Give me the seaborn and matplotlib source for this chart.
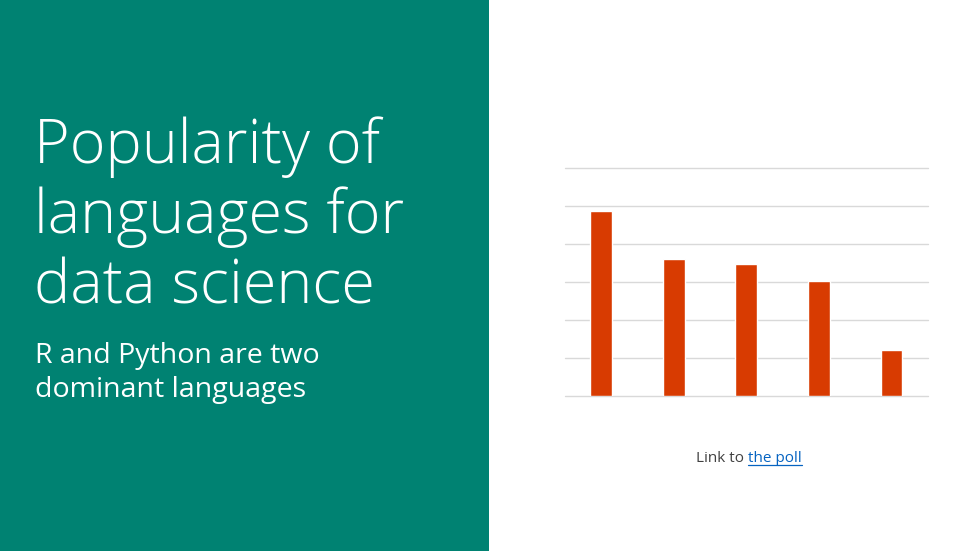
import matplotlib
matplotlib.use("Agg")
import matplotlib.pyplot as plt
from matplotlib.patches import Rectangle
from matplotlib import font_manager
import seaborn as sns
import pandas as pd

languages = ["R", "Python", "SQL", "SAS", "Other"]
share = [48.8, 36.1, 34.9, 30.3, 12.3]
grid_ticks = [0, 10, 20, 30, 40, 50, 60]

TEAL = "#008272"
ORANGE = "#D83B01"

sns.set_theme(style="white")
plt.rcParams["font.family"] = ["Open Sans", "DejaVu Sans"]

# find a light face if present
light_file = None
all_fonts = font_manager.findSystemFonts()
for key in ["opensans", "notosans", "lato", "roboto", "inter"]:
    for f in all_fonts:
        low = f.lower().replace("-", "").replace("_", "").replace(" ", "")
        name = low.rsplit("/", 1)[-1]
        if name.startswith(key) and "light" in name and "italic" not in name \
                and "extralight" not in name and "condensed" not in name \
                and "mono" not in name and "cjk" not in name:
            light_file = f
            break
    if light_file:
        break

fig = plt.figure(figsize=(9.79, 5.51), dpi=100)
fig.patch.set_facecolor("white")
fig.patches.append(Rectangle((0, 0), 489 / 979, 1, transform=fig.transFigure,
                             facecolor=TEAL, edgecolor="none", zorder=0))

ax = fig.add_axes([565 / 979, 1 - 396.3 / 551, (927.7 - 565) / 979, (396.3 - 168.3) / 551])
df = pd.DataFrame({"lang": languages, "share": share})
sns.barplot(data=df, x="lang", y="share", color=ORANGE, width=0.3,
            saturation=1, ax=ax, zorder=3)
ax.set_ylim(0, 60)
ax.set_xlim(-0.5, 4.5)
ax.set_yticks(grid_ticks)
ax.yaxis.grid(True, color="#d9d9d9", linewidth=1, zorder=0)
for gl in ax.get_ygridlines():
    gl.set_clip_on(False)
ax.set_axisbelow(True)
ax.set_xticks([])
ax.set_yticklabels([])
ax.tick_params(left=False, bottom=False)
ax.set_xlabel("")
ax.set_ylabel("")
for s in ax.spines.values():
    s.set_visible(False)
ax.set_facecolor("none")

if light_file:
    tprops = dict(fontproperties=font_manager.FontProperties(fname=light_file, size=44))
else:
    tprops = dict(fontsize=43.5, fontweight="light")

title_lines = ["Popularity of", "languages for", "data science"]
title_y = [162.7, 233, 303.5]
for line, yy in zip(title_lines, title_y):
    fig.text(34 / 979, 1 - yy / 551, line, color="white",
             va="baseline", ha="left", **tprops)

fig.text(35 / 979, 1 - 363.3 / 551, "R and Python are two", color="white", fontsize=20.5,
         va="baseline", ha="left")
fig.text(35 / 979, 1 - 396.7 / 551, "dominant languages", color="white", fontsize=20.5,
         va="baseline", ha="left")

t1 = fig.text(696 / 979, 1 - 462 / 551, "Link to ", color="#404040", fontsize=11,
              va="baseline", ha="left")
fig.canvas.draw()
bb = t1.get_window_extent()
x2 = bb.x1 / fig.bbox.width
t2 = fig.text(x2, 1 - 462 / 551, "the poll", color="#0563C1", fontsize=11,
              va="baseline", ha="left")
fig.canvas.draw()
bb2 = t2.get_window_extent()
fig.add_artist(plt.Line2D([bb2.x0 / fig.bbox.width, bb2.x1 / fig.bbox.width],
                          [1 - 465 / 551, 1 - 465 / 551], color="#0563C1",
                          linewidth=0.9, transform=fig.transFigure))

fig.savefig("out.png", dpi=100, facecolor="white")
